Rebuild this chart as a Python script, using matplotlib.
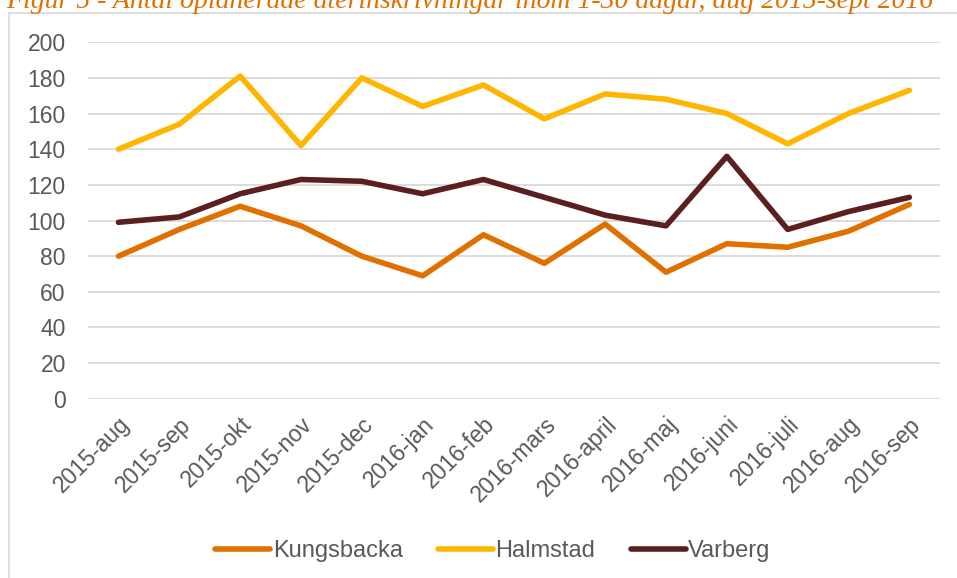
import matplotlib.pyplot as plt
from matplotlib.patches import Rectangle

months = ["2015-aug", "2015-sep", "2015-okt", "2015-nov", "2015-dec", "2016-jan", "2016-feb",
          "2016-mars", "2016-april", "2016-maj", "2016-juni", "2016-juli", "2016-aug", "2016-sep"]
kungsbacka = [80, 95, 108, 97, 80, 69, 92, 76, 98, 71, 87, 85, 94, 109]
halmstad = [140, 154, 181, 142, 180, 164, 176, 157, 171, 168, 160, 143, 160, 173]
varberg = [99, 102, 115, 123, 122, 115, 123, 113, 103, 97, 136, 95, 105, 113]

plt.rcParams['font.family'] = ['Liberation Sans', 'DejaVu Sans']
gray = '#595959'

fig = plt.figure(figsize=(9.57, 5.78), dpi=100)
ax = fig.add_axes([0.092, 0.31, 0.89, 0.617])

x = range(len(months))
ax.plot(x, kungsbacka, color='#E07000', lw=4, solid_capstyle='round', label='Kungsbacka')
ax.plot(x, halmstad, color='#FFB600', lw=4, solid_capstyle='round', label='Halmstad')
ax.plot(x, varberg, color='#5C1F1F', lw=4, solid_capstyle='round', label='Varberg')

ax.set_ylim(0, 200)
ax.set_yticks(range(0, 201, 20))
ax.set_xlim(-0.5, len(months) - 0.5)
ax.set_xticks(list(x))
ax.set_xticklabels(months, rotation=45, ha='right', rotation_mode='anchor')
ax.tick_params(length=0, labelsize=16.5, labelcolor=gray)
ax.tick_params(axis='y', pad=16)
ax.tick_params(axis='x', pad=10)
ax.grid(axis='y', color='#d9d9d9', lw=1.3)
ax.set_axisbelow(True)
for s in ax.spines.values():
    s.set_visible(False)

fig.add_artist(Rectangle((9 / 957, -0.02), 1.0, 1 - 12.5 / 578 + 0.02, transform=fig.transFigure,
                         fill=False, edgecolor='#d9d9d9', lw=1.2))

fig.text(6 / 957, 1 - 8 / 578, "Figur 5 - Antal oplanerade återinskrivningar inom 1-30 dagar, aug 2015-sept 2016",
         family='Liberation Serif', style='italic', color='#E07000', fontsize=20, va='baseline')

fig.legend(loc='center', bbox_to_anchor=(0.515, 1 - 551 / 578), ncol=3, frameon=False,
           fontsize=17, labelcolor=gray, handlelength=2.33, handletextpad=0.1, columnspacing=1.5)

fig.savefig('out.png', dpi=100)
